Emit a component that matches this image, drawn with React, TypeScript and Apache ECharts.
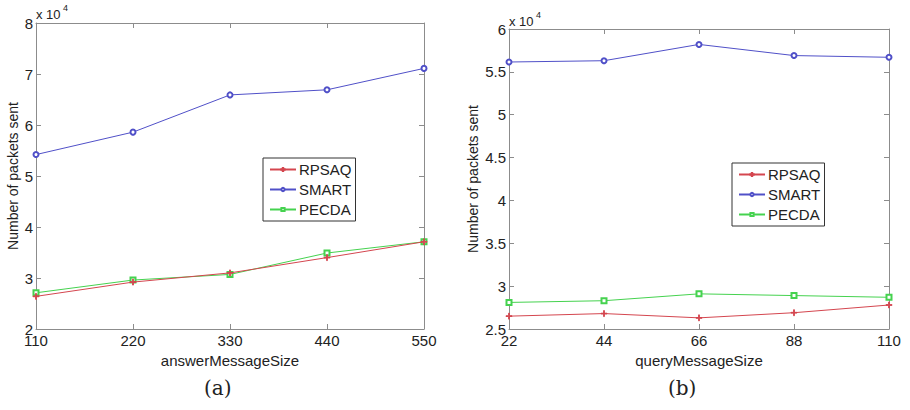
import React, { useEffect, useRef } from "react";
import * as echarts from "echarts";

const seriesNames = ["RPSAQ", "SMART", "PECDA"];

const answerSizes = [110, 220, 330, 440, 550];
const aRPSAQ = [26400, 29200, 31000, 34000, 37100];
const aSMART = [54200, 58600, 65900, 66900, 71100];
const aPECDA = [27100, 29600, 30700, 34900, 37100];

const querySizes = [22, 44, 66, 88, 110];
const bRPSAQ = [26500, 26800, 26300, 26900, 27800];
const bSMART = [56150, 56300, 58200, 56900, 56700];
const bPECDA = [28100, 28300, 29100, 28900, 28700];

const colors = ["#d4464f", "#5050c8", "#45d24f"];
const plusPath = "path://M4.4,0h1.2v4.4h4.4v1.2h-4.4v4.4h-1.2v-4.4h-4.4v-1.2h4.4z";
const symbols = [plusPath, "emptyCircle", "emptyRect"];
const symbolSizes = [6, 5, 5];

const FONT = "Liberation Sans, Arial, sans-serif";
const AXIS_COLOR = "#8c8c8c";

export default function App() {
  const ref = useRef<HTMLDivElement>(null);
  useEffect(() => {
    if (!ref.current) return;
    const chart = echarts.init(ref.current, undefined, { renderer: "svg" });

    const grids = [
      { left: 36, top: 23, width: 388, height: 306 },
      { left: 509, top: 29, width: 380, height: 300 },
    ];
    const xCfg = [
      { min: 110, max: 550, interval: 110, name: "answerMessageSize" },
      { min: 22, max: 110, interval: 22, name: "queryMessageSize" },
    ];
    const yCfg = [
      { min: 20000, max: 80000, interval: 10000, gap: 16 },
      { min: 25000, max: 60000, interval: 5000, gap: 29 },
    ];

    const xAxes: any[] = [];
    const yAxes: any[] = [];
    for (let g = 0; g < 2; g++) {
      const base = {
        gridIndex: g,
        type: "value",
        min: xCfg[g].min,
        max: xCfg[g].max,
        interval: xCfg[g].interval,
        axisLine: { show: true, onZero: false, lineStyle: { color: AXIS_COLOR, width: 1 } },
        axisTick: { show: true, inside: true, length: 5, lineStyle: { color: AXIS_COLOR } },
        splitLine: { show: false },
      };
      xAxes.push({
        ...base,
        position: "bottom",
        name: xCfg[g].name,
        nameLocation: "middle",
        nameGap: 21,
        nameTextStyle: { fontFamily: FONT, fontSize: 15, color: "#222" },
        axisLabel: { fontFamily: FONT, fontSize: 15, color: "#222", margin: 4 },
      });
      xAxes.push({ ...base, position: "top", axisLabel: { show: false } });
      const ybase = {
        gridIndex: g,
        type: "value",
        min: yCfg[g].min,
        max: yCfg[g].max,
        interval: yCfg[g].interval,
        axisLine: { show: true, onZero: false, lineStyle: { color: AXIS_COLOR, width: 1 } },
        axisTick: { show: true, inside: true, length: 5, lineStyle: { color: AXIS_COLOR } },
        splitLine: { show: false },
      };
      yAxes.push({
        ...ybase,
        position: "left",
        name: "Number of packets sent",
        nameLocation: "middle",
        nameGap: yCfg[g].gap,
        nameTextStyle: { fontFamily: FONT, fontSize: 14, color: "#222" },
        axisLabel: {
          fontFamily: FONT,
          fontSize: 15,
          color: "#222",
          margin: 3,
          formatter: (v: number) => String(v / 10000),
        },
      });
      yAxes.push({ ...ybase, position: "right", axisLabel: { show: false } });
    }

    const data = [
      [aRPSAQ, aSMART, aPECDA],
      [bRPSAQ, bSMART, bPECDA],
    ];
    const xs = [answerSizes, querySizes];
    const series: any[] = [];
    for (let g = 0; g < 2; g++) {
      for (let s = 0; s < 3; s++) {
        series.push({
          type: "line",
          name: seriesNames[s],
          xAxisIndex: g * 2,
          yAxisIndex: g * 2,
          data: xs[g].map((x, i) => [x, data[g][s][i]]),
          symbol: symbols[s],
          symbolSize: symbolSizes[s],
          lineStyle: { color: colors[s], width: 1 },
          itemStyle: { color: colors[s], borderColor: colors[s], borderWidth: 1 },
          z: s === 2 ? 2 : 3,
        });
      }
    }

    const legendBase = {
      orient: "vertical",
      data: seriesNames,
      itemWidth: 26,
      itemHeight: 4,
      itemGap: 5,
      padding: [4, 4, 4, 6],
      borderColor: "#333",
      borderWidth: 1,
      backgroundColor: "#fff",
      textStyle: { fontFamily: FONT, fontSize: 15, color: "#222", padding: [0, 0, 0, -2] },
      selectedMode: false,
    };

    const supText = (x: number, y: number) => [
      {
        type: "text",
        left: x,
        top: y,
        style: { text: "x 10", fontFamily: FONT, fontSize: 13, fill: "#222" },
      },
      {
        type: "text",
        left: x + 27,
        top: y - 5,
        style: { text: "4", fontFamily: FONT, fontSize: 9, fill: "#222" },
      },
    ];

    chart.setOption({
      animation: false,
      backgroundColor: "#fff",
      grid: grids,
      xAxis: xAxes,
      yAxis: yAxes,
      legend: [
        { ...legendBase, left: 263, top: 158 },
        { ...legendBase, left: 732, top: 163 },
      ],
      series,
      graphic: [
        ...supText(36, 8),
        ...supText(509, 15),
        {
          type: "text",
          left: 204,
          top: 378,
          style: { text: "(a)", fontFamily: "DejaVu Serif, serif", fontSize: 20, fill: "#222" },
        },
        {
          type: "text",
          left: 668,
          top: 378,
          style: { text: "(b)", fontFamily: "DejaVu Serif, serif", fontSize: 20, fill: "#222" },
        },
      ],
    });
    return () => chart.dispose();
  }, []);
  return <div ref={ref} style={{ width: 910, height: 410, position: "absolute", left: 0, top: 0 }} />;
}
